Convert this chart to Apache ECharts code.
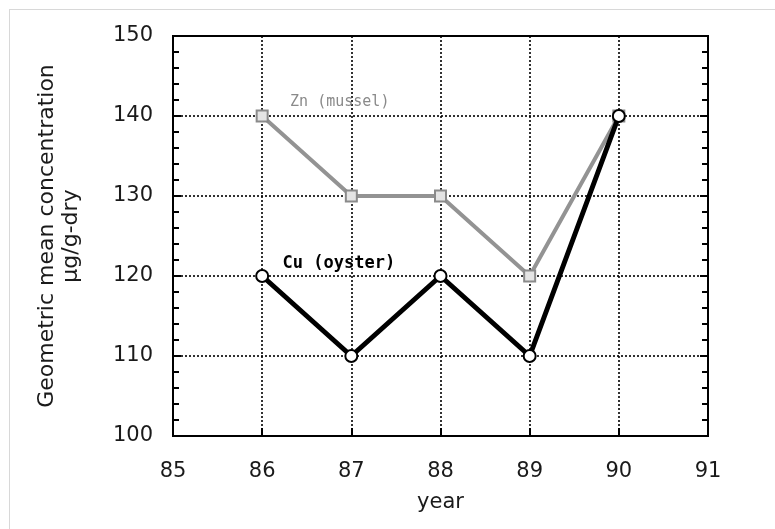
<!DOCTYPE html>
<html>
<head>
<meta charset="utf-8">
<script src="https://cdn.jsdelivr.net/npm/echarts@6/dist/echarts.min.js"></script>
<style>
  html, body { margin: 0; padding: 0; background: #fff; }
  #frame { position: absolute; left: 9px; top: 9px; width: 775px; height: 520px; border-left: 1px solid #d8d8d8; border-top: 1px solid #d8d8d8; }
  #chart { width: 775px; height: 529px; position: absolute; left: 0; top: 0; }
</style>
</head>
<body>
<div id="frame"></div>
<div id="chart"></div>
<script>
// Survey years and geometric mean concentrations (µg/g-dry)
const years = [86, 87, 88, 89, 90];
const cuOyster = [120, 110, 120, 110, 140];
const znMussel = [140, 130, 130, 120, 140];

const cuName = 'Cu (oyster)';
const znName = 'Zn (mussel)';
// where each series name is written, in data coordinates
const cuLabelAt = [86.86, 121.55];
const znLabelAt = [86.87, 141.7];

const toPairs = (xs, ys) => xs.map((x, i) => [x, ys[i]]);

const chart = echarts.init(document.getElementById('chart'), null, { renderer: 'canvas' });

const tickFont = { fontFamily: 'DejaVu Sans', fontSize: 21, color: '#1a1a1a' };
const dotted = { color: '#000', width: 1.6, type: [2, 2] };

chart.setOption({
  animation: false,
  backgroundColor: 'transparent',
  grid: { left: 173, right: 67, top: 36, bottom: 93, show: true, borderColor: '#000', borderWidth: 2, backgroundColor: 'transparent' },
  xAxis: [{
    type: 'value', min: 85, max: 91, interval: 1,
    name: 'year', nameLocation: 'middle', nameGap: 56,
    nameTextStyle: { fontFamily: 'DejaVu Sans', fontSize: 21, color: '#1a1a1a' },
    axisLine: { show: true, lineStyle: { color: '#000', width: 2 } },
    axisTick: { show: true, inside: true, length: 8, lineStyle: { color: '#000', width: 2 } },
    axisLabel: Object.assign({ margin: 25 }, tickFont),
    splitLine: { show: true, lineStyle: dotted }
  }],
  yAxis: [{
    type: 'value', min: 100, max: 150, interval: 10,
    name: 'Geometric mean concentration\nµg/g-dry', nameLocation: 'middle', nameGap: 90, nameRotate: 90,
    nameTextStyle: { fontFamily: 'DejaVu Sans', fontSize: 22, color: '#1a1a1a', lineHeight: 24 },
    axisLine: { show: true, lineStyle: { color: '#000', width: 2 } },
    axisTick: { show: true, inside: true, length: 8, lineStyle: { color: '#000', width: 2 } },
    minorTick: { show: true, splitNumber: 5, length: 6, lineStyle: { color: '#000', width: 2 } },
    axisLabel: Object.assign({ margin: 20 }, tickFont),
    splitLine: { show: true, lineStyle: dotted }
  }, {
    type: 'value', min: 100, max: 150, interval: 10, position: 'right',
    axisLine: { show: true, lineStyle: { color: '#000', width: 2 } },
    axisTick: { show: true, inside: true, length: 8, lineStyle: { color: '#000', width: 2 } },
    minorTick: { show: true, splitNumber: 5, length: 6, lineStyle: { color: '#000', width: 2 } },
    axisLabel: { show: false },
    splitLine: { show: false }
  }],
  series: [{
    name: znName, type: 'line', data: toPairs(years, znMussel),
    symbol: 'rect', symbolSize: 11, z: 3,
    lineStyle: { color: '#939393', width: 4 },
    itemStyle: { color: '#e4e4e4', borderColor: '#8a8a8a', borderWidth: 2 },
    markPoint: {
      symbol: 'circle', symbolSize: 0, silent: true,
      label: { show: true, position: 'inside', formatter: znName, fontFamily: 'DejaVu Sans Mono', fontSize: 15, color: '#8a8a8a' },
      data: [{ coord: znLabelAt }]
    }
  }, {
    name: cuName, type: 'line', data: toPairs(years, cuOyster),
    symbol: 'circle', symbolSize: 12, z: 4,
    lineStyle: { color: '#000', width: 5 },
    itemStyle: { color: '#fff', borderColor: '#000', borderWidth: 2 },
    markPoint: {
      symbol: 'circle', symbolSize: 0, silent: true,
      label: { show: true, position: 'inside', formatter: cuName, fontFamily: 'DejaVu Sans Mono', fontSize: 17, fontWeight: 'bold', color: '#000' },
      data: [{ coord: cuLabelAt }]
    }
  }]
});
</script>
</body>
</html>
